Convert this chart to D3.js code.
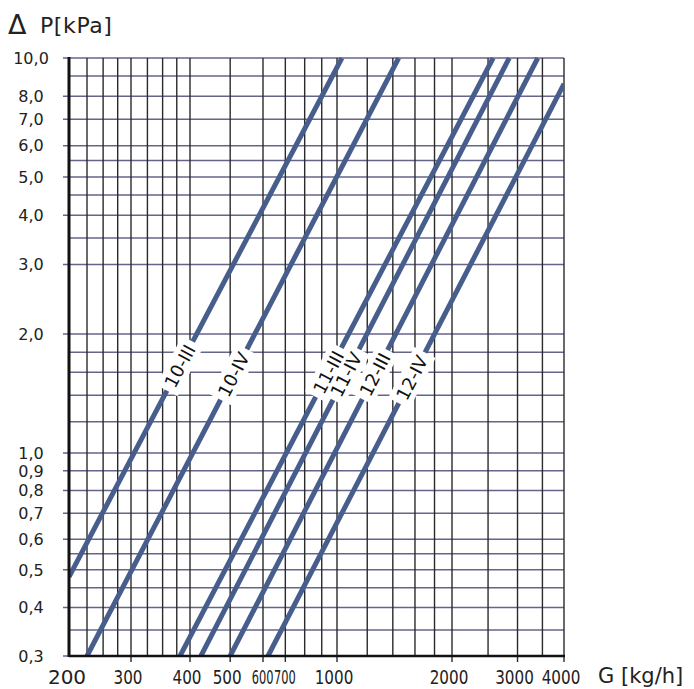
<!DOCTYPE html>
<html>
<head>
<meta charset="utf-8">
<script src="https://cdn.jsdelivr.net/npm/d3@7/dist/d3.min.js"></script>
<style>
  html, body { margin: 0; padding: 0; background: #fff; }
  svg { display: block; }
</style>
</head>
<body>
<svg id="chart" width="694" height="689"></svg>
<script>
// ---------------- DATA ----------------
const seriesNames = ["10-III", "10-IV", "11-III", "11-IV", "12-III", "12-IV"];
const startG = [200, 225, 381, 425, 500, 621];
const startP = [0.48, 0.3, 0.3, 0.3, 0.3, 0.3];
const endG   = [1030, 1450, 2580, 2850, 3400, 4000];
const endP   = [10, 10, 10, 10, 10, 8.6];
const labelP = [1.66, 1.58, 1.60, 1.58, 1.58, 1.55];

const xGridValues = [200, 225, 250, 275, 300, 325, 350, 375, 400, 500, 600, 700, 800, 900,
                     1000, 1200, 1400, 1600, 1800, 2000, 2500, 3000, 3500, 4000];
const yGridValues = [0.3, 0.35, 0.4, 0.45, 0.5, 0.55, 0.6, 0.7, 0.8, 0.9, 1,
                     1.2, 1.4, 1.6, 1.8, 2, 3, 3.5, 4, 4.5, 5, 5.5, 6, 7, 8, 9, 10];
const xTickLabels = [200, 300, 400, 500, 600, 700, 1000, 2000, 3000, 4000];
const yTickLabels = [10, 8, 7, 6, 5, 4, 3, 2, 1, 0.9, 0.8, 0.7, 0.6, 0.5, 0.4, 0.3];
const xAxisTitle = "G [kg/h]";
const yAxisSymbol = "Δ";
const yAxisTitle = "P[kPa]";

// ---------------- LAYOUT ----------------
const pLeft = 69, pRight = 564, pTop = 58, pBottom = 656;
// the printed chart's G axis is a hand-drawn log axis: piecewise log segments
const xBreaks = [200, 300, 400, 600, 1000, 2000, 4000];
const xBreakPx = [69, 131, 190, 263, 337, 452, 564];
const x = d3.scaleLog().domain(xBreaks).range(xBreakPx);
const y = d3.scaleLog().domain([0.3, 1, 10]).range([pBottom, 453, pTop]);

const svg = d3.select("#chart");
const lineColor = "#475d8c";
const FONT = "DejaVu Sans, sans-serif";

svg.append("defs").append("clipPath").attr("id", "plotclip")
  .append("rect").attr("x", pLeft).attr("y", pTop - 1)
  .attr("width", pRight - pLeft).attr("height", pBottom - pTop + 1);

// horizontal grid (purple-grey)
const yLabelSet = new Set(yTickLabels);
svg.append("g").selectAll("line").data(yGridValues).join("line")
  .attr("x1", d => yLabelSet.has(d) ? pLeft - 6 : pLeft)
  .attr("x2", pRight)
  .attr("y1", d => y(d)).attr("y2", d => y(d))
  .attr("stroke", "#65658a").attr("stroke-width", 1.5);

// vertical grid (dark)
const xLabelSet = new Set(xTickLabels);
svg.append("g").selectAll("line").data(xGridValues).join("line")
  .attr("x1", d => x(d)).attr("x2", d => x(d))
  .attr("y1", pTop)
  .attr("y2", d => xLabelSet.has(d) && d !== 200 ? pBottom + 6 : pBottom)
  .attr("stroke", "#2a2a2a").attr("stroke-width", 1.4);

// characteristic lines
const lineGen = d3.line().x(d => x(d[0])).y(d => y(d[1]));
const gLines = svg.append("g").attr("clip-path", "url(#plotclip)");
seriesNames.forEach((name, i) => {
  gLines.append("path")
    .attr("d", lineGen([[startG[i], startP[i]], [endG[i], endP[i]]]))
    .attr("fill", "none").attr("stroke", lineColor).attr("stroke-width", 5);
});

// labels on lines
const labelInfo = seriesNames.map((name, i) => {
  const x0 = x(startG[i]), y0 = y(startP[i]), x1 = x(endG[i]), y1 = y(endP[i]);
  const ly = y(labelP[i]);
  const t = (ly - y0) / (y1 - y0);
  const lx = x0 + t * (x1 - x0);
  const ang = Math.atan2(y1 - y0, x1 - x0) * 180 / Math.PI;
  return { name, lx, ly, ang };
});
const gBoxes = svg.append("g");
const gTexts = svg.append("g");
labelInfo.forEach(L => {
  const txt = gTexts.append("text")
    .attr("transform", `translate(${L.lx},${L.ly}) rotate(${L.ang})`)
    .attr("text-anchor", "middle").attr("dy", "0.36em")
    .attr("font-family", FONT).attr("font-size", 18)
    .attr("fill", "#111").text(L.name);
  const w = txt.node().getComputedTextLength() + 10;
  gBoxes.append("rect")
    .attr("transform", `translate(${L.lx},${L.ly}) rotate(${L.ang})`)
    .attr("x", -w / 2).attr("y", -12).attr("width", w).attr("height", 24)
    .attr("fill", "#fff");
});

// axis frame lines
svg.append("line").attr("x1", pLeft).attr("x2", pLeft).attr("y1", pTop - 1).attr("y2", pBottom + 1)
  .attr("stroke", "#111").attr("stroke-width", 3);
svg.append("line").attr("x1", pLeft).attr("x2", pRight + 1).attr("y1", pBottom).attr("y2", pBottom)
  .attr("stroke", "#111").attr("stroke-width", 2.5);

// y tick labels
const fmtY = d => d3.format(".1f")(d).replace(".", ",");
svg.append("g").selectAll("text").data(yTickLabels).join("text")
  .attr("x", 31).attr("y", d => y(d)).attr("dy", "0.36em")
  .attr("text-anchor", "middle")
  .attr("font-family", FONT).attr("font-size", 16)
  .attr("fill", "#222").text(fmtY);

// x tick labels (condensed lettering, except the first)
const xLabelSqueeze = d => (d === 600 || d === 700) ? 0.6 : 0.8;
svg.append("g").selectAll("g").data(xTickLabels).join("g")
  .attr("transform", d => d === 200
      ? `translate(${x(d) - 2},684)`
      : `translate(${x(d) - (d === 600 || d === 700 ? 0.5 : 3)},684) scale(${xLabelSqueeze(d)},1)`)
  .append("text")
  .attr("text-anchor", "middle")
  .attr("font-family", FONT)
  .attr("font-size", d => d === 200 ? 20 : 19)
  .attr("fill", "#222").text(d => d);

// axis titles
svg.append("text").attr("x", 598).attr("y", 683)
  .attr("font-family", FONT).attr("font-size", 21)
  .attr("fill", "#222").text(xAxisTitle);
svg.append("text").attr("x", 8).attr("y", 34)
  .attr("font-family", FONT).attr("font-size", 27)
  .attr("fill", "#222").text(yAxisSymbol);
svg.append("text").attr("x", 40).attr("y", 33)
  .attr("font-family", FONT).attr("font-size", 22).attr("letter-spacing", 0.6)
  .attr("fill", "#222").text(yAxisTitle);
</script>
</body>
</html>
